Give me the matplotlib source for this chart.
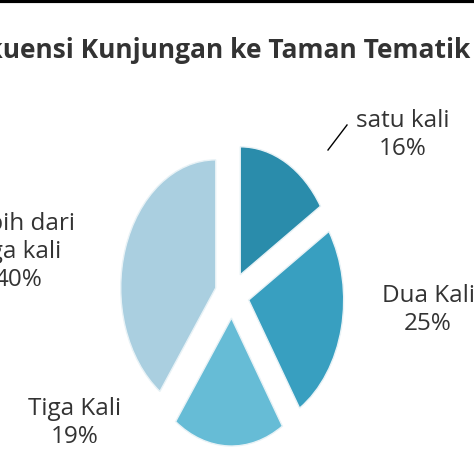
import matplotlib.pyplot as plt
from matplotlib.patches import Wedge
import numpy as np

labels = ["satu kali", "Dua Kali", "Tiga Kali", "Lebih dari\ntiga kali"]
values = [16, 25, 19, 40]
colors = ["#2a8cab", "#389fc0", "#66bcd6", "#aacfe0"]
# label positions in pixels (x, y from top)
label_pos = [(403, 135), (428, 310), (75, 423), (18, 252)]

W = 474


def main():
    fig = plt.figure(figsize=(4.74, 4.74), dpi=100)
    ax = fig.add_axes([0, 0, 1, 1])
    # pie is stretched: wider vertically than across
    cx, cy, sx, sy = 232, 295, 95, 128
    ax.set_xlim(-cx / sx, (W - cx) / sx)
    ax.set_ylim(-(W - cy) / sy, cy / sy)
    ax.axis("off")

    total = sum(values)
    start = 90.0
    explode = 0.18
    for v, c in zip(values, colors):
        end = start - 360.0 * v / total
        mid = np.radians((start + end) / 2)
        ox, oy = explode * np.cos(mid), explode * np.sin(mid)
        ax.add_patch(Wedge((ox, oy), 1.0, end, start, facecolor=c,
                           edgecolor="#e8f2f6", linewidth=1))
        start = end

    for (lab, v), (px, py) in zip(zip(labels, values), label_pos):
        fig.text(px / W, 1 - py / W, f"{lab}\n{v}%", ha="center", va="center",
                 fontsize=17.5, color="#333333", family="Open Sans",
                 linespacing=1.2)

    fig.add_artist(plt.Line2D([328 / W, 347 / W], [1 - 150 / W, 1 - 125 / W],
                              color="black", linewidth=1))

    fig.text(-55 / W, 1 - 50 / W, "Frekuensi Kunjungan ke Taman Tematik",
             ha="left", va="center", fontsize=19, fontweight="bold",
             color="#333333", family="Open Sans")

    fig.add_artist(plt.Line2D([0, 1], [0.997, 0.997], color="black", linewidth=3))

    fig.savefig("out.png", dpi=100)


if __name__ == "__main__":
    main()
